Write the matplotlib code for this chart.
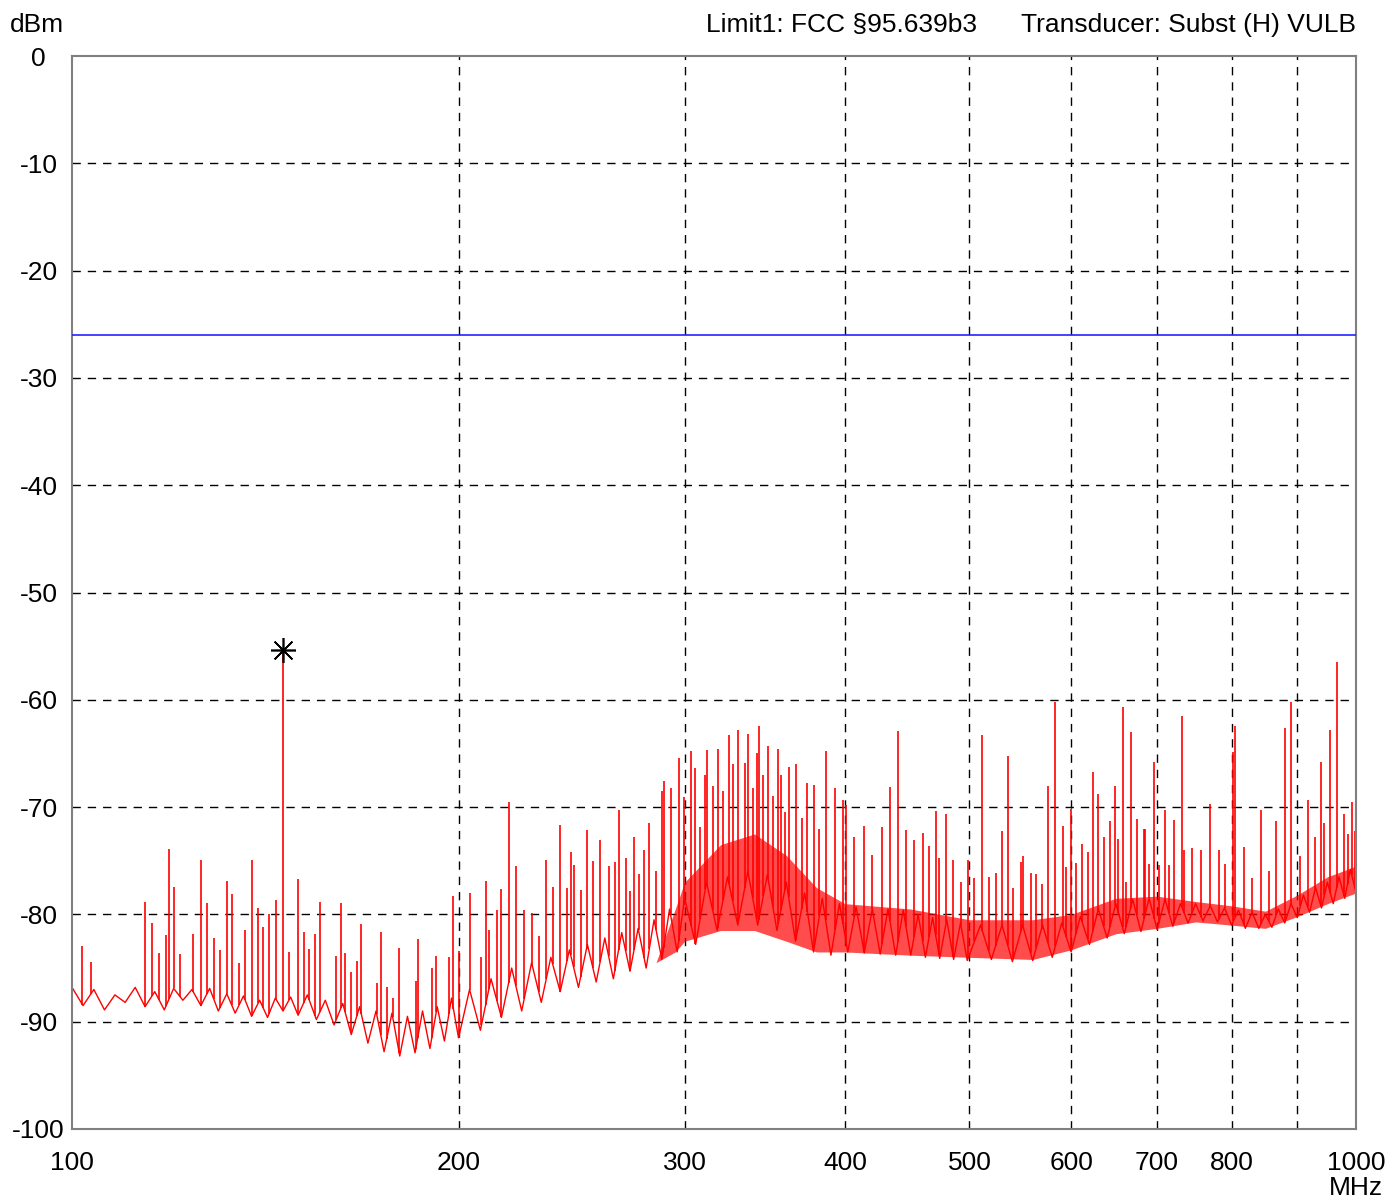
import matplotlib.pyplot as plt
import numpy as np

plt.rcParams['font.family'] = ['Liberation Sans', 'DejaVu Sans']

# Noise floor of the sweep, alternating trough / crest readings (MHz, dBm)
noise_mhz = [100, 102, 104, 106, 108, 110, 112, 114, 116, 118, 120, 122, 124, 126,
             128, 130, 132, 134, 136, 138, 140, 142, 144, 146, 148, 150,
             152.5, 155, 157.5, 160, 162.5, 165, 167.5, 170, 172.5, 175, 177.5,
             180, 182.5, 185, 187.5, 190, 192.5, 195, 197.5, 200,
             204, 208, 212, 216, 220, 224, 228, 232, 236, 240, 244, 248, 252, 256,
             260, 264, 268, 272, 276, 280, 284, 288, 292, 296, 300,
             306, 312, 318, 324, 330, 336, 342, 348, 354, 360, 366, 372, 378, 384,
             390, 396, 402, 408, 414, 420, 426, 432, 438, 444, 450, 456, 462, 468,
             474, 480, 486, 492, 498,
             510, 520, 530, 540, 550, 560, 570, 580, 590, 600, 610, 620, 630, 640,
             650, 660, 670, 680, 690, 700, 710, 720, 730, 740, 750, 760, 770, 780,
             790, 800, 810, 820, 830, 840, 850, 860, 870, 880, 890, 900, 910, 920,
             930, 940, 950, 960, 970, 980, 990, 1000]
noise_dbm = [-86.8, -88.5, -87.0, -88.9, -87.5, -88.2, -86.8, -88.6, -87.2, -88.9,
             -86.9, -88.0, -87.0, -88.5, -86.9, -89.0, -87.4, -89.2, -87.6, -89.5,
             -88.0, -89.6, -87.8, -89.0, -87.7, -89.4,
             -87.5, -89.8, -88.0, -90.3, -88.3, -91.2, -88.6, -92.0, -89.0, -92.8,
             -89.2, -93.2, -89.5, -92.9, -89.0, -92.5, -88.6, -91.8, -87.8, -91.5,
             -87.0, -90.8, -86.0, -89.6, -85.0, -89.0, -84.5, -88.2, -84.0, -87.2,
             -83.3, -86.8, -82.8, -86.3, -82.2, -86.0, -81.7, -85.3, -81.3, -85.0,
             -80.5, -84.2, -79.5, -83.5, -78.5,
             -82.8, -77.0, -81.5, -76.5, -81.0, -76.0, -81.0, -76.3, -81.5, -77.0,
             -82.5, -78.0, -83.5, -78.5, -83.8, -79.0, -83.5, -79.3, -83.6, -79.5,
             -83.7, -79.5, -83.8, -79.6, -83.8, -80.0, -84.0, -80.3, -84.1, -80.5,
             -84.2, -80.8, -84.3,
             -81.0, -84.2, -81.0, -84.4, -81.0, -84.3, -81.0, -84.0, -80.8, -83.5,
             -80.2, -82.8, -79.5, -82.2, -79.0, -81.8, -78.6, -81.6, -78.5, -81.4,
             -78.6, -81.1, -79.0, -80.8, -79.0, -80.6, -79.2, -80.7, -79.4, -81.0,
             -79.6, -81.3, -79.8, -81.3, -80.0, -81.2, -79.5, -80.8, -79.0, -80.3,
             -78.2, -79.8, -77.5, -79.4, -77.0, -79.0, -76.5, -78.5, -75.8, -78.0]

# Where the trace is packed solid: lower and upper edge of the red mass
band_mhz = [285, 295, 300, 320, 340, 360, 380, 400, 450, 500, 560, 600, 650, 700,
            750, 800, 850, 900, 950, 1000]
band_lo = [-84.5, -83.5, -82.5, -81.5, -81.5, -82.5, -83.5, -83.5, -83.8, -84.0,
           -84.2, -83.3, -81.8, -81.3, -80.7, -81.0, -81.3, -80.2, -79.0, -78.0]
band_hi = [-84.5, -79.5, -77.0, -73.5, -72.5, -74.5, -77.5, -79.0, -79.5, -80.5,
           -80.5, -80.0, -78.5, -78.3, -78.8, -79.2, -79.7, -78.2, -76.5, -75.5]

# Discrete emissions sticking out of the floor (MHz, peak dBm)
spike_mhz = [101.9, 103.4, 114.0, 115.4, 116.9, 118.4, 119.0, 120.0, 121.4, 124.3,
             126.0, 127.4, 128.9, 130.4, 132.0, 133.2, 134.9, 136.4, 138.0, 139.7,
             140.9, 142.4, 144.1, 147.6, 149.9, 151.5, 153.0, 154.6, 156.0, 160.6,
             162.0, 163.2, 164.9, 166.7, 168.0, 172.7, 174.0, 175.8, 177.7, 179.8,
             185.2, 185.9, 190.6, 192.2, 196.6, 198.2, 200.0, 204.0, 208.4, 210.0,
             211.2, 214.3, 216.0, 218.8, 221.7, 225.0, 228.3, 231.0, 234.1, 236.8,
             240.0, 242.9, 244.5, 245.8, 249.0, 251.6, 254.5, 257.8, 261.8, 264.7,
             266.5, 269.9, 272.0, 274.0, 276.2, 279.0, 281.6, 285.0, 288.2, 288.9,
             292.6, 296.8, 299.5, 303.6, 305.9, 308.5, 311.3, 312.3, 315.5, 318.3,
             321.4, 324.9, 327.0, 330.3, 334.1, 336.4, 339.0, 341.3, 342.6, 345.5,
             348.5, 351.5, 354.8, 356.5, 359.0, 361.5, 366.2, 370.0, 373.9, 378.6,
             382.0, 386.3, 392.9, 398.5, 401.0, 406.6, 413.9, 420.0, 427.3, 433.5,
             439.7, 446.2, 452.7, 459.7, 465.0, 470.6, 473.5, 479.6, 485.7, 492.3,
             498.9, 504.5, 511.6, 517.4, 523.9, 529.8, 535.4, 541.0, 548.3, 550.3,
             558.0, 563.6, 569.0, 575.6, 583.3, 590.9, 595.0, 599.6, 605.0, 611.9,
             618.0, 623.9, 629.6, 636.0, 643.1, 649.5, 653.0, 657.9, 662.0, 667.6,
             675.0, 683.7, 685.3, 690.0, 696.5, 702.0, 709.4, 715.0, 721.5, 731.7,
             735.0, 745.0, 757.5, 769.9, 781.9, 790.0, 802.6, 805.5, 818.3, 830.0,
             843.4, 855.0, 866.9, 880.3, 890.7, 905.0, 916.8, 929.3, 938.5, 945.0,
             955.0, 965.7, 979.0, 985.0, 992.4, 998.0, 1000.0]
spike_dbm = [-82.9, -84.4, -78.8, -80.8, -83.6, -81.9, -73.9, -77.4, -83.7, -81.8,
             -74.9, -78.9, -82.2, -83.3, -76.9, -78.1, -84.5, -81.5, -74.9, -79.4,
             -81.2, -80.0, -78.7, -83.5, -76.7, -81.6, -83.2, -81.8, -78.8, -83.9,
             -78.9, -83.6, -85.4, -84.3, -80.9, -86.4, -81.6, -86.8, -87.8, -83.1,
             -86.2, -82.3, -85.0, -83.9, -84.0, -78.3, -83.4, -78.0, -84.0, -76.9,
             -81.5, -79.6, -77.6, -69.5, -75.5, -79.6, -79.9, -82.0, -74.9, -77.4,
             -71.7, -77.5, -74.2, -75.4, -77.7, -72.1, -75.0, -73.1, -75.5, -75.1,
             -70.3, -74.7, -77.8, -72.8, -76.2, -74.0, -71.5, -76.0, -68.5, -67.6,
             -68.2, -65.4, -69.1, -64.8, -66.4, -71.9, -67.0, -64.7, -68.0, -64.6,
             -68.5, -63.3, -66.0, -62.8, -65.9, -63.2, -68.2, -65.0, -62.4, -67.0,
             -64.3, -69.0, -64.6, -67.0, -70.5, -66.3, -66.0, -71.0, -67.8, -67.9,
             -72.0, -64.8, -68.2, -69.3, -69.8, -72.8, -71.8, -74.5, -71.9, -68.1,
             -62.9, -72.1, -73.1, -72.4, -73.6, -70.4, -74.7, -70.6, -74.9, -77.0,
             -74.9, -76.6, -63.3, -76.5, -76.1, -72.2, -65.2, -77.5, -75.1, -74.6,
             -76.1, -76.2, -77.2, -68.0, -60.2, -71.8, -75.6, -70.2, -75.2, -73.4,
             -74.2, -66.7, -68.8, -72.8, -71.3, -68.0, -73.0, -60.7, -77.0, -63.0,
             -71.1, -72.0, -72.0, -75.3, -65.8, -75.4, -70.3, -75.4, -71.2, -61.5,
             -74.0, -73.8, -74.0, -69.7, -74.0, -75.3, -64.9, -62.4, -73.7, -76.6,
             -70.3, -76.0, -71.3, -62.6, -60.2, -74.6, -69.3, -72.8, -65.8, -71.5,
             -62.8, -56.5, -70.6, -72.5, -69.5, -72.2, -68.4]

# Marker on the strongest emission
marker_mhz = 146.0
marker_dbm = -55.4

limit_dbm = -26.0

xticks = [100, 200, 300, 400, 500, 600, 700, 800, 900, 1000]
xlabels = ['100', '200', '300', '400', '500', '600', '700', '800', '', '1000']
yticks = list(range(-100, 1, 10))

fig = plt.figure(figsize=(13.89, 12), dpi=100)
ax = fig.add_axes([72 / 1389, 71 / 1200, 1284 / 1389, 1073 / 1200])

ax.set_xscale('log')
ax.set_xlim(100, 1000)
ax.set_ylim(-100, 0)

# dashed grid
for f in xticks[1:-1]:
    ax.axvline(f, color='black', lw=1, ls=(0, (6, 5)), zorder=1)
for v in yticks[1:-1]:
    ax.axhline(v, color='black', lw=1, ls=(0, (6, 5)), zorder=1)

# dense part of the trace
ax.fill_between(band_mhz, band_lo, band_hi, color='#ff0000', alpha=0.7,
                lw=0, zorder=2)

# noise floor trace and emission spikes
ax.plot(noise_mhz, noise_dbm, color='#ff0000', lw=1.0, zorder=2)
spike_base = np.interp(spike_mhz, noise_mhz, noise_dbm)
ax.vlines(spike_mhz, spike_base, spike_dbm, color='#ff0000', lw=1.2, zorder=2)
ax.vlines([marker_mhz], [np.interp(marker_mhz, noise_mhz, noise_dbm)], [marker_dbm],
          color='#ff0000', lw=1.2, zorder=2)

# limit line
ax.axhline(limit_dbm, color='#2222ff', lw=1.2, zorder=3)

# marker
ax.plot([marker_mhz], [marker_dbm], marker=(8, 2, 0), ms=18, mew=1.2,
        color='black', zorder=4)

ax.set_xticks(xticks)
ax.set_xticklabels(xlabels, fontsize=19)
ax.xaxis.set_minor_locator(plt.NullLocator())
ax.set_yticks(yticks)
ax.set_yticklabels([str(v) for v in yticks], fontsize=19)
ax.tick_params(axis='both', length=0)
ax.tick_params(axis='x', pad=16)
ax.tick_params(axis='y', pad=24)
for lab in ax.get_yticklabels():
    lab.set_horizontalalignment('center')

for sp in ax.spines.values():
    sp.set_color('#808080')
    sp.set_linewidth(1.5)

fig.text(37 / 1389, 1 - 25 / 1200, 'dBm', fontsize=19, ha='center', va='center')
fig.text(1356 / 1389, 1 - 1188 / 1200, 'MHz', fontsize=19, ha='center', va='center')
fig.text(977 / 1389, 1 - 25 / 1200, 'Limit1: FCC §95.639b3', fontsize=19,
         ha='right', va='center')
fig.text(1356 / 1389, 1 - 25 / 1200, 'Transducer: Subst (H) VULB', fontsize=19,
         ha='right', va='center')

fig.savefig('out.png', dpi=100)
